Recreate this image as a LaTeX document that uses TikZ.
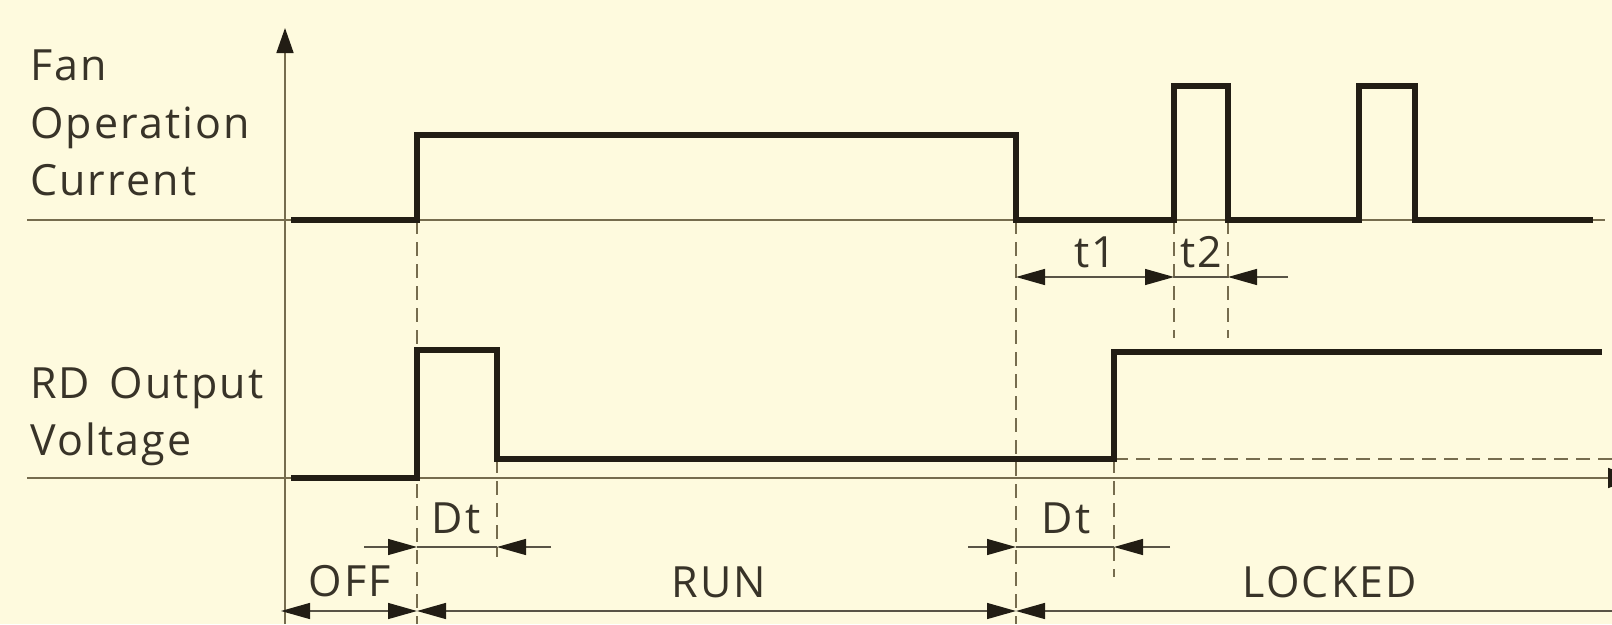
\documentclass[tikz,border=0pt]{standalone}
\usepackage{fontspec}
\setmainfont{Open Sans}[LetterSpace=5]
\usetikzlibrary{arrows.meta}
\definecolor{BG}{RGB}{254,250,222}
\definecolor{DG}{RGB}{34,29,20}
\definecolor{MG}{RGB}{118,108,78}

\begin{document}
\begin{tikzpicture}[x=1pt,y=-1pt,
  sig/.style={DG, line width=5.8pt, line join=miter},
  base/.style={MG, line width=1.6pt},
  guide/.style={MG, line width=1.3pt, dash pattern=on 14pt off 8pt},
  dim/.style={DG!75!BG, line width=1.4pt},
  tri/.tip={Triangle[length=29pt,width=16pt,color=DG]},
  lbl/.style={font=\fontsize{43}{57}\selectfont, text=DG!90!BG, inner sep=0pt}]
\useasboundingbox (0,0) rectangle (1612,624);
\fill[BG] (0,0) rectangle (1612,624);

% axes
\draw[base] (27,220) -- (1605,220);
\draw[base, -{Triangle[length=28pt,width=20pt,color=DG]}] (27,478) -- (1636,478);
\draw[base, -{Triangle[length=25pt,width=17pt,color=DG]}] (285,624) -- (285,28);

% guide lines
\draw[guide] (417,220) -- (417,624);
\draw[guide] (497,459) -- (497,557);
\draw[guide] (1016,220) -- (1016,624);
\draw[guide] (1174,220) -- (1174,338);
\draw[guide] (1228,220) -- (1228,338);
\draw[guide] (1114,459) -- (1114,577);
\draw[guide] (1114,459) -- (1612,459);

% signals
\draw[sig] (291,220) -- (417,220) -- (417,135) -- (1016,135) -- (1016,220)
  -- (1174,220) -- (1174,86) -- (1228,86) -- (1228,220)
  -- (1359,220) -- (1359,86) -- (1415,86) -- (1415,220) -- (1593,220);
\draw[sig] (291,478) -- (417,478) -- (417,350) -- (497,350) -- (497,459)
  -- (1114,459) -- (1114,352) -- (1602,352);

% t1 / t2
\draw[dim, tri-tri] (1016,277) -- (1174,277);
\draw[dim, -tri] (1288,277) -- (1228,277);
\draw[dim] (1174,277) -- (1228,277);

% Dt
\draw[dim, -tri] (364,547) -- (417,547);
\draw[dim] (417,547) -- (497,547);
\draw[dim, -tri] (551,547) -- (497,547);
\draw[dim, -tri] (968,547) -- (1016,547);
\draw[dim] (1016,547) -- (1114,547);
\draw[dim, -tri] (1170,547) -- (1114,547);

% states
\draw[dim, tri-tri] (281,611) -- (417,611);
\draw[dim, tri-tri] (417,611) -- (1016,611);
\draw[dim, tri-] (1016,611) -- (1612,611);

% labels
\node[lbl, anchor=base west] (fan) at (30,80) {Fan};
\node[lbl, anchor=base west] (oper) at (30,138) {Operation};
\node[lbl, anchor=base west] (curr) at (30,195) {Current};
\node[lbl, anchor=base west] (rdout) at (30,398) {RD\hspace{6pt} Output};
\node[lbl, anchor=base west] (volt) at (30,455) {Voltage};
\node[lbl, anchor=base] (tone) at (1095,267) {t1};
\node[lbl, anchor=base] (ttwo) at (1201,267) {t2};
\node[lbl, anchor=base] (dtrun) at (456,533) {Dt};
\node[lbl, anchor=base] (dtlock) at (1066,533) {Dt};
\node[lbl, anchor=base] (off) at (350,596) {OFF};
\node[lbl, anchor=base] (run) at (719,597) {RUN};
\node[lbl, anchor=base] (locked) at (1330,597) {LOCKED};
\end{tikzpicture}
\end{document}
